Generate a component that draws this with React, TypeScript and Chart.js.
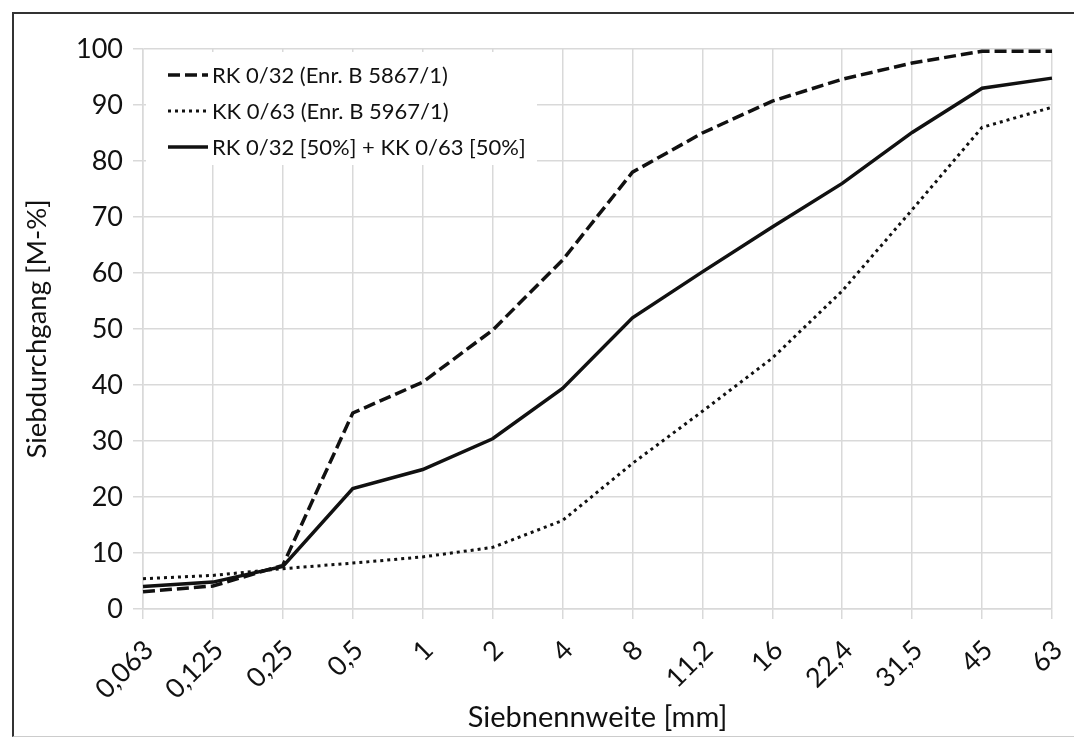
import React, { useEffect, useRef } from 'react';
import { Chart, registerables } from 'chart.js';

Chart.register(...registerables);

const categories = ['0,063', '0,125', '0,25', '0,5', '1', '2', '4', '8', '11,2', '16', '22,4', '31,5', '45', '63'];
const rk032 = [3.1, 4.1, 7.8, 35.0, 40.5, 49.8, 62.3, 78.0, 85.0, 90.7, 94.6, 97.5, 99.6, 99.6];
const kk063 = [5.4, 6.0, 7.2, 8.2, 9.3, 11.0, 15.8, 26.0, 35.3, 44.8, 56.8, 71.3, 86.0, 89.6];
const mix = [4.0, 4.8, 7.6, 21.5, 24.9, 30.4, 39.4, 52.0, 60.2, 68.2, 76.0, 85.1, 93.0, 94.8];
const seriesLabels = ['RK 0/32 (Enr. B 5867/1)', 'KK 0/63 (Enr. B 5967/1)', 'RK 0/32 [50%] + KK 0/63 [50%]'];
const xTitle = 'Siebnennweite [mm]';
const yTitle = 'Siebdurchgang [M-%]';

const FONT = 'Lato, "Open Sans", sans-serif';
const TEXT = '#111111';
const GRID = '#d9d9d9';

const insideLegend = {
  id: 'insideLegend',
  beforeDatasetsDraw(chart: any) {
    const ctx = chart.ctx;
    const area = chart.chartArea;
    const x0 = area.left + 3;
    const y0 = area.top + 3;
    ctx.save();
    ctx.fillStyle = '#ffffff';
    ctx.fillRect(x0, y0, 391, 113);
    ctx.restore();
  },
  afterDatasetsDraw(chart: any) {
    const ctx = chart.ctx;
    const area = chart.chartArea;
    const x0 = area.left + 3;
    const y0 = area.top + 3;
    ctx.save();
    chart.data.datasets.forEach((ds: any, i: number) => {
      const y = y0 + 23 + i * 36;
      ctx.beginPath();
      ctx.strokeStyle = ds.borderColor;
      ctx.lineWidth = ds.borderWidth;
      ctx.lineCap = 'butt';
      ctx.setLineDash(ds.borderDash || []);
      ctx.moveTo(x0 + 22, y);
      ctx.lineTo(x0 + 62, y);
      ctx.stroke();
      ctx.setLineDash([]);
      ctx.fillStyle = TEXT;
      ctx.font = `22px ${FONT}`;
      ctx.textBaseline = 'middle';
      ctx.textAlign = 'left';
      ctx.fillText(ds.label, x0 + 66, y + 1);
    });
    ctx.restore();
  },
};

export default function App() {
  const ref = useRef<HTMLCanvasElement | null>(null);

  useEffect(() => {
    document.body.style.margin = '0';
    const canvas = ref.current;
    if (!canvas) return;
    const chart = new Chart(canvas, {
      type: 'line',
      data: {
        labels: categories,
        datasets: [
          {
            label: seriesLabels[0],
            data: rk032,
            borderColor: '#111111',
            borderWidth: 3.5,
            borderDash: [12, 5],
            pointRadius: 0,
            fill: false,
            tension: 0,
          },
          {
            label: seriesLabels[1],
            data: kk063,
            borderColor: '#111111',
            borderWidth: 3,
            borderDash: [3, 4],
            pointRadius: 0,
            fill: false,
            tension: 0,
          },
          {
            label: seriesLabels[2],
            data: mix,
            borderColor: '#111111',
            borderWidth: 3.5,
            pointRadius: 0,
            fill: false,
            tension: 0,
          },
        ],
      },
      options: {
        responsive: false,
        animation: false,
        layout: { padding: { top: 49, right: 22, left: 0, bottom: 0 } },
        plugins: {
          legend: { display: false },
          tooltip: { enabled: false },
        },
        scales: {
          x: {
            type: 'category',
            offset: false,
            grid: { color: GRID, lineWidth: 1.5, tickLength: 10, drawTicks: true },
            border: { color: GRID, width: 1.5 },
            ticks: {
              autoSkip: false,
              minRotation: 45,
              maxRotation: 45,
              color: TEXT,
              padding: 15,
              labelOffset: 6,
              font: { family: FONT, size: 27 },
            },
            title: {
              display: true,
              text: xTitle,
              color: TEXT,
              font: { family: FONT, size: 29 },
              padding: { top: 0, bottom: 4 },
            },
            afterFit: (scale: any) => {
              scale.height = 130;
              scale.paddingRight = 0;
              scale.paddingLeft = 0;
            },
          },
          y: {
            min: 0,
            max: 100,
            grid: { color: GRID, lineWidth: 1.5, tickLength: 10 },
            border: { color: GRID, width: 1.5 },
            ticks: {
              stepSize: 10,
              color: TEXT,
              padding: 10,
              font: { family: FONT, size: 27 },
            },
            title: {
              display: true,
              text: yTitle,
              color: TEXT,
              font: { family: FONT, size: 27.5 },
              padding: { top: 21, bottom: 0 },
            },
            afterFit: (scale: any) => {
              scale.width = 143;
            },
          },
        },
      },
      plugins: [insideLegend],
    });
    return () => chart.destroy();
  }, []);

  return (
    <div style={{ position: 'relative', width: 1074, height: 739, background: '#fff', overflow: 'hidden' }}>
      <canvas ref={ref} width={1074} height={739} style={{ position: 'absolute', left: 0, top: 0 }} />
      <div
        style={{
          position: 'absolute',
          left: 12,
          top: 12,
          width: 1080,
          height: 722,
          borderTop: '2px solid #333',
          borderLeft: '2px solid #333',
          borderBottom: '1px solid #ccc',
          pointerEvents: 'none',
        }}
      />
    </div>
  );
}
